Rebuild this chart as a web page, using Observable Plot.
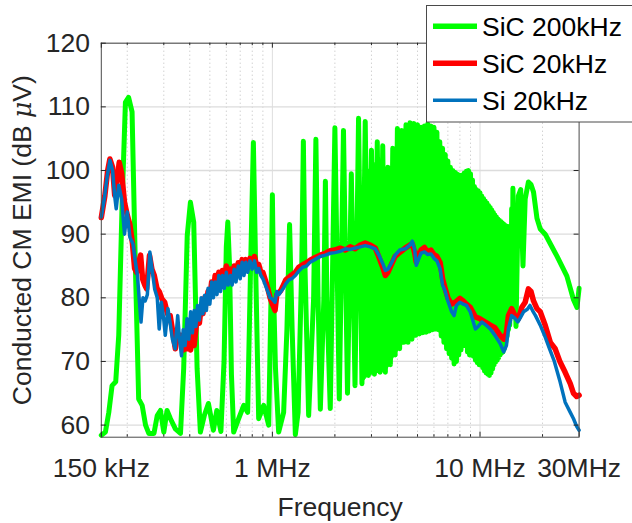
<!DOCTYPE html>
<html>
<head>
<meta charset="utf-8">
<script src="https://cdn.jsdelivr.net/npm/d3@7"></script>
<script src="https://cdn.jsdelivr.net/npm/@observablehq/plot@0.6"></script>
<style>
  html, body { margin: 0; padding: 0; background: #ffffff; overflow: hidden; }
  #chart { width: 632px; height: 523px; }
</style>
</head>
<body>
<div id="chart"></div>
<script>
// ---------- axis text ----------
const xTicks = [0.15, 1, 10, 30];
const xTickLabels = ["150 kHz", "1 MHz", "10 MHz", "30MHz"];
const xMinor = [0.2, 0.3, 0.4, 0.5, 0.6, 0.7, 0.8, 0.9, 2, 3, 4, 5, 6, 7, 8, 9, 20];
const xMajorGrid = [1, 10];
const yTicks = [60, 70, 80, 90, 100, 110, 120];
const yTickLabels = ["60", "70", "80", "90", "100", "110", "120"];
const xLabel = "Frequency";
const yLabel = "Conducted CM EMI (dB \u03bcV)";
const seriesNames = ["SiC 200kHz", "SiC 20kHz", "Si 20kHz"];
const seriesColors = ["#00ff00", "#ff0000", "#0072bd"];

// ---------- SiC 200kHz (green), frequency in MHz, level in dBuV ----------
// low-frequency part (below 2 MHz)
const greenLowF = [0.150,0.157,0.163,0.169,0.176,0.182,0.189,0.196,0.203,0.211,0.219,0.227,0.236,0.245,0.254,0.269,0.279,0.289,0.300,0.311,0.323,0.341,0.361,0.374,0.389,0.403,0.418,0.434,0.450,0.470,0.492,0.520,0.540,0.565,0.585,0.600,0.610,0.622,0.635,0.651,0.688,0.728,0.760,0.785,0.810,0.831,0.859,0.908,0.960,0.985,1.000,1.015,1.035,1.072,1.133,1.175,1.210,1.245,1.290,1.330,1.385,1.410,1.435,1.495,1.580,1.620,1.660,1.702,1.770,1.800,1.830,1.900];
const greenLowV = [58.4,58.9,62.0,66.2,66.8,74.1,95.0,110.7,111.5,109.2,84.6,64.1,63.1,60.0,58.7,58.7,61.5,62.3,58.9,62.3,61.0,59.4,58.7,68.9,89.8,95.0,91.9,68.9,58.9,61.5,63.4,59.2,62.3,59.0,70.0,88.0,91.9,85.0,68.0,58.9,61.0,63.1,62.0,84.6,104.4,84.6,61.0,63.1,60.0,80.0,96.2,80.0,68.9,58.9,62.0,75.0,91.5,75.0,58.5,62.0,85.0,104.6,85.0,61.5,80.0,104.9,80.0,62.5,80.0,98.3,80.0,62.6];
// switching harmonics 2.0 .. 14.4 MHz: peak levels
const harmF = [2.0,2.2,2.4,2.6,2.8,3.0,3.2,3.4,3.6,3.8,4.0,4.2,4.4,4.6,4.8,5.0,5.2,5.4,5.6,5.8,6.0,6.2,6.4,6.6,6.8,7.0,7.2,7.4,7.6,7.8,8.0,8.2,8.4,8.6,8.8,9.0,9.2,9.4,9.6,9.8,10.0,10.2,10.4,10.6,10.8,11.0,11.2,11.4,11.6,11.8,12.0,12.2,12.4,12.6,12.8,13.0,13.2,13.4,13.6,13.8,14.0,14.2,14.4];
const harmPeak = [106.7,106.3,99.5,108.2,107.7,103.2,104.5,103.9,100.5,103.5,106.6,106.3,107.2,107.5,107.4,107.2,106.8,107.0,107.3,107.0,106.8,106.0,104.5,103.5,102.5,101.5,100.5,100.0,99.7,99.4,99.2,99.3,99.6,99.9,100.0,99.5,98.5,97.5,97.0,96.8,96.5,96.0,95.6,95.2,94.9,94.5,94.2,93.8,93.4,93.0,92.7,92.4,92.2,92.0,91.8,91.6,91.4,91.3,91.2,91.1,91.0,94.0,97.2];
// levels between harmonics (lower edge of the dense band)
const valF = [2.1,2.3,2.5,2.7,2.9,3.1,3.3,3.5,3.7,3.9,4.1,4.3,4.5,4.7,4.9,5.1,5.3,5.5,5.7,5.9,6.1,6.3,6.5,6.7,6.9,7.1,7.3,7.5,7.7,7.9,8.1,8.3,8.5,8.7,8.9,9.1,9.3,9.5,9.7,9.9,10.1,10.3,10.5,10.7,10.9,11.1,11.3,11.5,11.7,11.9,12.1,12.3,12.5,12.7,12.9,13.1,13.3,13.5,13.7,13.9,14.1,14.3];
const valV = [64.1,65.0,66.2,66.5,67.8,68.0,68.3,68.3,69.5,71.0,72.0,73.0,73.0,73.5,74.1,74.3,74.5,74.6,74.8,75.0,75.1,75.0,74.0,73.0,72.0,71.2,70.5,69.6,70.0,71.0,71.8,72.5,72.5,71.5,71.0,71.0,70.8,70.2,69.8,69.5,69.4,69.0,68.5,68.2,68.0,67.8,68.2,68.8,69.5,69.9,70.2,70.6,71.0,71.3,71.5,72.0,73.0,74.0,75.0,75.7,77.0,79.0];
// upper edge of the solid (unresolved) part of the band, 2.7 .. 14.3 MHz
const bandF = [2.7,2.9,3.1,3.3,3.5,3.7,3.9,4.1,4.3,4.5,4.7,4.9,5.1,5.3,5.5,5.7,5.9,6.1,6.3,6.5,6.7,6.9,7.1,7.3,7.5,7.7,7.9,8.1,8.3,8.5,8.7,8.9,9.1,9.3,9.5,9.7,9.9,10.1,10.3,10.5,10.7,10.9,11.1,11.3,11.5,11.7,11.9,12.1,12.3,12.5,12.7,12.9,13.1,13.3,13.5,13.7,13.9,14.1,14.3];
const bandLo = [66.5,67.8,68.0,68.3,68.3,69.5,71.0,72.0,73.0,73.0,73.5,74.1,74.3,74.5,74.6,74.8,75.0,75.1,75.0,74.0,73.0,72.0,71.2,70.5,69.6,70.0,71.0,71.8,72.5,72.5,71.5,71.0,71.0,70.8,70.2,69.8,69.5,69.4,69.0,68.5,68.2,68.0,67.8,68.2,68.8,69.5,69.9,70.2,70.6,71.0,71.3,71.5,72.0,73.0,74.0,75.0,75.7,77.0,79.0];
const bandHi = [97.0,100.0,101.0,102.0,99.5,99.5,102.5,105.0,105.5,106.5,106.8,106.6,106.3,106.2,106.4,106.5,106.2,105.6,104.5,103.2,102.2,101.2,100.3,99.6,99.2,98.9,98.6,98.6,98.8,99.1,99.3,99.1,98.4,97.4,96.6,96.2,96.0,95.6,95.2,94.8,94.4,94.1,93.7,93.4,93.0,92.6,92.3,92.0,91.7,91.5,91.3,91.1,90.9,90.8,90.7,90.6,90.5,90.5,92.0];
// high-frequency tail
const tailF = [14.9,15.3,15.7,16.1,16.5,17.1,17.6,18.1,18.8,19.5,20.6,21.8,23.5,26.2,28.2,29.3,30.0];
const tailV = [75.5,96.0,97.0,85.0,95.5,98.2,97.8,96.6,92.5,90.8,90.0,88.5,86.5,83.4,79.7,78.5,81.5];

// ---------- SiC 20kHz (red) ----------
const sicF = [0.150,0.156,0.161,0.165,0.170,0.174,0.178,0.183,0.188,0.194,0.200,0.206,0.212,0.217,0.222,0.227,0.232,0.237,0.243,0.248,0.256,0.263,0.270,0.278,0.286,0.294,0.303,0.312,0.322,0.330,0.341,0.350,0.358,0.366,0.373,0.380,0.388,0.396,0.404,0.412,0.420,0.428,0.436,0.445,0.454,0.463,0.472,0.481,0.490,0.500,0.510,0.520,0.530,0.541,0.552,0.563,0.575,0.587,0.600,0.612,0.628,0.640,0.655,0.668,0.685,0.700,0.715,0.730,0.745,0.760,0.780,0.800,0.820,0.840,0.860,0.880,0.900,0.925,0.950,0.975,1.000,1.030,1.050,1.075,1.100,1.130,1.160,1.200,1.240,1.290,1.340,1.400,1.460,1.520,1.600,1.700,1.800,1.900,2.000,2.120,2.250,2.370,2.500,2.650,2.800,2.960,3.130,3.250,3.400,3.500,3.600,3.750,3.900,4.130,4.360,4.600,4.720,4.850,4.930,5.050,5.200,5.400,5.600,5.800,6.000,6.200,6.430,6.600,6.800,7.000,7.300,7.600,8.000,8.300,8.600,8.970,9.500,10.00,10.60,11.20,11.80,12.50,13.00,13.40,13.70,14.20,14.80,15.30,15.90,16.50,17.10,17.60,18.10,18.80,19.50,20.60,21.80,23.00,24.30,25.70,27.20,28.20,29.20,30.00];
const sicV = [92.6,96.0,100.0,101.8,100.5,96.1,98.0,101.3,99.5,95.0,93.0,91.5,88.5,84.6,84.0,85.5,86.7,83.0,82.0,81.4,86.7,84.5,83.5,81.5,80.9,79.8,79.3,77.5,77.2,75.0,72.0,74.5,73.5,74.1,71.8,73.8,72.0,73.5,71.8,74.0,72.5,75.0,77.5,76.0,78.5,77.5,80.0,79.0,81.0,80.0,82.5,81.0,83.5,82.0,84.0,82.5,84.3,82.5,85.0,83.0,84.5,83.0,85.0,83.5,85.5,84.0,86.0,84.5,86.0,84.8,86.2,85.0,86.5,85.0,85.2,84.0,84.0,82.8,81.5,80.0,79.0,78.0,80.5,80.8,81.2,82.0,82.8,83.2,83.6,84.0,84.8,85.2,85.5,85.9,86.3,86.7,87.0,87.4,87.5,87.8,87.5,88.0,87.7,88.3,88.6,88.3,87.8,86.5,84.8,83.5,84.0,85.3,86.5,87.2,87.8,88.3,88.5,87.0,85.6,86.8,87.5,87.9,87.2,87.5,86.8,86.5,85.5,83.0,81.4,80.0,79.0,79.3,79.9,79.5,79.0,78.5,77.0,76.7,76.2,75.7,75.3,74.1,73.5,74.5,77.2,78.3,77.0,76.7,78.5,79.3,81.4,81.0,79.5,78.3,77.8,75.7,73.0,72.0,69.9,68.3,66.5,65.0,64.5,64.7];

// ---------- Si 20kHz (blue) ----------
const siF = [0.150,0.155,0.160,0.165,0.170,0.174,0.177,0.182,0.188,0.194,0.200,0.206,0.213,0.219,0.224,0.229,0.233,0.238,0.244,0.250,0.257,0.263,0.271,0.279,0.285,0.292,0.300,0.305,0.314,0.322,0.330,0.340,0.350,0.356,0.365,0.372,0.380,0.388,0.396,0.404,0.412,0.420,0.428,0.436,0.445,0.454,0.463,0.472,0.481,0.490,0.500,0.510,0.520,0.530,0.541,0.552,0.563,0.575,0.587,0.600,0.612,0.628,0.640,0.655,0.668,0.685,0.700,0.715,0.730,0.745,0.760,0.780,0.800,0.820,0.840,0.860,0.880,0.900,0.925,0.950,0.975,1.000,1.030,1.050,1.075,1.100,1.130,1.160,1.200,1.240,1.290,1.340,1.400,1.460,1.520,1.600,1.700,1.800,1.900,2.000,2.120,2.250,2.370,2.500,2.650,2.800,2.960,3.130,3.250,3.400,3.500,3.600,3.750,3.900,4.100,4.360,4.600,4.720,4.850,4.930,5.050,5.200,5.400,5.600,5.800,6.000,6.200,6.430,6.600,6.800,7.000,7.300,7.500,7.700,8.000,8.300,8.600,8.970,9.500,9.800,10.20,10.60,11.20,11.80,12.50,13.00,13.40,13.70,14.20,14.70,15.20,15.60,16.20,16.90,17.40,17.90,18.50,19.50,20.50,21.60,22.80,24.30,25.70,27.20,28.20,29.20,30.00];
const siV = [92.7,95.5,99.0,101.6,100.0,96.0,94.0,97.7,95.5,90.0,93.5,89.5,88.5,85.6,83.5,79.3,76.2,80.0,79.5,80.5,87.2,84.6,81.4,80.0,75.1,79.3,76.5,74.1,78.3,76.0,73.5,72.0,77.2,74.0,70.9,75.0,72.5,76.7,73.5,77.8,74.5,78.0,75.5,78.8,76.5,80.0,77.5,80.4,78.0,81.5,79.0,82.5,80.0,82.5,80.5,83.5,81.0,83.5,81.5,84.0,82.0,83.5,82.0,84.5,82.5,85.0,83.0,85.6,83.5,85.6,84.0,85.8,84.5,85.8,84.0,84.6,83.5,83.0,82.0,81.0,80.0,79.8,79.3,81.0,80.5,81.0,81.5,82.2,82.8,83.0,83.5,84.2,84.8,85.0,85.6,86.0,86.5,86.7,87.0,87.1,87.3,87.7,87.6,87.8,88.0,88.2,88.0,87.7,86.8,85.4,84.3,84.5,85.5,86.7,87.5,87.7,88.3,88.9,87.5,85.1,86.0,87.0,87.2,86.8,86.9,86.2,85.8,84.5,82.0,81.0,79.5,77.8,77.2,78.8,79.3,79.0,78.8,77.8,75.1,75.5,76.2,75.8,75.1,74.1,72.8,71.5,72.5,75.1,77.2,76.8,76.2,76.8,77.8,78.2,78.8,78.0,77.2,75.7,74.0,72.0,70.0,66.8,63.6,62.0,61.0,59.8,59.2];

// ---------- build tables ----------
const green = [];
greenLowF.forEach((f, i) => green.push({f, v: greenLowV[i]}));
harmF.forEach((f, i) => {
  green.push({f, v: harmPeak[i]});
  if (i < valF.length) green.push({f: valF[i], v: valV[i]});
});
tailF.forEach((f, i) => green.push({f, v: tailV[i]}));
const band = bandF.map((f, i) => ({f, lo: bandLo[i], hi: bandHi[i]}));
const red = sicF.map((f, i) => ({f, v: sicV[i]}));
const blue = siF.map((f, i) => ({f, v: siV[i]}));

// ---------- layout ----------
const W = 632, H = 523;
const L = 100.8, R = 578.6, T = 42.7, B = 436.7;
const plotW = R - L, plotH = B - T;
const ink = "#262626";
const fs = 26.5;
const fontFamily = "'Liberation Sans', Arial, Helvetica, sans-serif";

const chart = Plot.plot({
  width: W, height: H,
  marginLeft: L, marginRight: W - R, marginTop: T, marginBottom: H - B,
  style: {fontFamily, background: "#ffffff"},
  x: {type: "log", domain: [0.15, 30], axis: null},
  y: {domain: [58.1, 120], axis: null},
  marks: [
    Plot.ruleX(xMinor, {x: d => d, stroke: "#bdbdbd", strokeDasharray: "1,3", strokeWidth: 1}),
    Plot.ruleX(xMajorGrid, {x: d => d, stroke: "#dedede", strokeWidth: 1}),
    Plot.ruleY(yTicks, {y: d => d, stroke: "#dcdcdc", strokeWidth: 1.3}),
    Plot.areaY(band, {x: "f", y1: "lo", y2: "hi", fill: seriesColors[0], stroke: seriesColors[0], strokeWidth: 1}),
    Plot.line(green, {x: "f", y: "v", stroke: seriesColors[0], strokeWidth: 5}),
    Plot.line(red, {x: "f", y: "v", stroke: seriesColors[1], strokeWidth: 5.5}),
    Plot.line(blue, {x: "f", y: "v", stroke: seriesColors[2], strokeWidth: 3.5}),
    Plot.frame({stroke: "#4a4a4a", strokeWidth: 1}),
    Plot.ruleX(xTicks, {x: d => d, insetTop: plotH - 5, stroke: ink}),
    Plot.ruleX(xTicks, {x: d => d, insetBottom: plotH - 5, stroke: ink}),
    Plot.ruleX(xMinor, {x: d => d, insetTop: plotH - 2.5, stroke: ink}),
    Plot.ruleX(xMinor, {x: d => d, insetBottom: plotH - 2.5, stroke: ink}),
    Plot.ruleY(yTicks, {y: d => d, insetRight: plotW - 5, stroke: ink}),
    Plot.ruleY(yTicks, {y: d => d, insetLeft: plotW - 5, stroke: ink}),
    Plot.text(xTicks, {x: d => d, text: (d, i) => xTickLabels[i], frameAnchor: "bottom", textAnchor: "middle", lineAnchor: "top", dy: 21.3, fontSize: fs, fill: ink}),
    Plot.text(yTicks, {y: d => d, text: (d, i) => yTickLabels[i], frameAnchor: "left", textAnchor: "end", dx: -11.3, fontSize: fs, fill: ink}),
    Plot.text([xLabel], {text: d => d, frameAnchor: "bottom", textAnchor: "middle", lineAnchor: "top", dy: 60, fontSize: fs, fill: ink}),
    Plot.text([yLabel], {text: d => d, frameAnchor: "left", textAnchor: "middle", rotate: -90, lineAnchor: "top", dx: -88.8, fontSize: fs, fill: ink})
  ]
});

document.getElementById("chart").appendChild(chart);

// italic mu in the y label (TeX style)
d3.select(chart).selectAll("text").each(function () {
  if (this.textContent === yLabel) {
    const t = d3.select(this);
    t.text(null);
    t.append("tspan").text("Conducted CM EMI (dB ");
    t.append("tspan").attr("font-style", "italic").attr("font-family", "'DejaVu Serif', serif").attr("font-size", fs * 0.95).text("\u03bc");
    t.append("tspan").text("V)");
  }
});

// legend box (top right, overlapping the axes as in the original)
const svg = d3.select(chart);
const lg = svg.append("g").attr("font-family", fontFamily).attr("text-anchor", "start");
lg.append("rect").attr("x", 426.5).attr("y", 5.5).attr("width", 210).attr("height", 116.5)
  .attr("fill", "#ffffff").attr("stroke", "#4a4a4a").attr("stroke-width", 1);
const legendWidths = [5.5, 5.5, 3.5];
seriesNames.forEach((name, i) => {
  const cy = 26.2 + i * 37;
  lg.append("line").attr("x1", 433).attr("x2", 477).attr("y1", cy).attr("y2", cy)
    .attr("stroke", seriesColors[i]).attr("stroke-width", legendWidths[i]);
  lg.append("text").attr("x", 482).attr("y", cy + 9.5).attr("font-size", fs)
    .attr("text-anchor", "start").attr("fill", "#000000").text(name);
});
</script>
</body>
</html>
